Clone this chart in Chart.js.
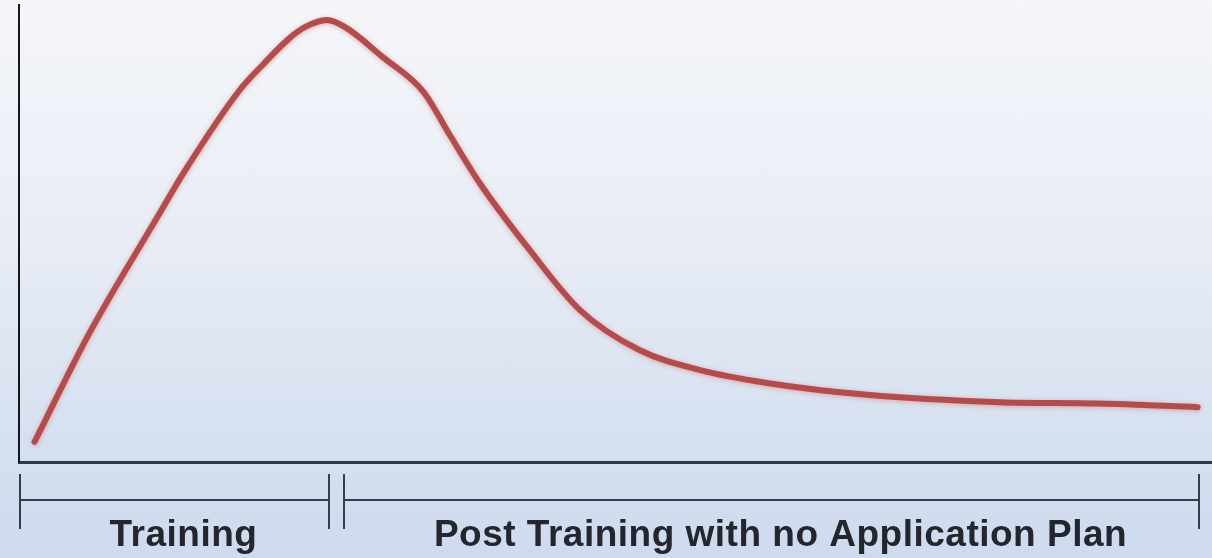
<!DOCTYPE html>
<html>
<head>
<meta charset="utf-8">
<script src="https://cdn.jsdelivr.net/npm/chart.js@4/dist/chart.umd.min.js"></script>
<style>
  html, body { margin: 0; padding: 0; }
  body {
    width: 1212px; height: 558px; overflow: hidden;
    background: linear-gradient(to bottom, #f5f6fa 0%, #e7ecf5 45%, #d3deef 85%, #cedaee 100%);
  }
  canvas { display: block; }
</style>
</head>
<body>
<canvas id="chart" width="1212" height="558"></canvas>
<script>
// Retention curve: time (0-100) against knowledge level (0-100)
const timeValues = [1.3, 5.9, 11.6, 13.9, 18.5, 20.5, 22.7, 24.0, 25.8, 27.3, 30.5, 33.9,
                    36.1, 38.6, 42.8, 47.0, 52.0, 57.1, 62.7, 71.1, 82.2, 90.6, 98.8];
const levelValues = [4.4, 28.2, 53.6, 63.7, 81.4, 87.1, 92.8, 95.2, 96.7, 95.2, 88.6, 81.0,
                     71.6, 61.1, 46.4, 33.3, 24.5, 20.1, 17.3, 14.7, 13.1, 12.8, 12.0];

// Phases marked under the time axis
const phaseLabels = ['Training', 'Post Training with no Application Plan'];
const phaseStart = [0, 27.2];
const phaseEnd = [26.0, 98.9];

const points = timeValues.map((t, i) => ({ x: t, y: levelValues[i] }));

// Soft glow under the curve
const glowPlugin = {
  id: 'glow',
  beforeDatasetsDraw(chart) {
    const ctx = chart.ctx;
    ctx.save();
    ctx.shadowColor = 'rgba(225, 120, 120, 0.6)';
    ctx.shadowBlur = 5;
    ctx.shadowOffsetX = 0;
    ctx.shadowOffsetY = 1;
  },
  afterDatasetsDraw(chart) {
    chart.ctx.restore();
  }
};

// Bracketed phase spans with their labels below the time axis
const phasePlugin = {
  id: 'phases',
  afterDraw(chart) {
    const ctx = chart.ctx;
    const xs = chart.scales.x;
    const lineY = 500, tickTop = 474, tickBottom = 529, textY = 546;
    ctx.save();
    ctx.strokeStyle = '#333d4c';
    ctx.lineWidth = 2;
    ctx.fillStyle = '#23262c';
    ctx.font = 'bold 37px "Liberation Sans", Arial, sans-serif';
    ctx.letterSpacing = '0.5px';
    ctx.textAlign = 'center';
    ctx.textBaseline = 'alphabetic';
    phaseLabels.forEach((label, i) => {
      const x0 = Math.round(xs.getPixelForValue(phaseStart[i])) + 1;
      const x1 = Math.round(xs.getPixelForValue(phaseEnd[i]));
      ctx.beginPath();
      ctx.moveTo(x0, lineY); ctx.lineTo(x1, lineY);
      ctx.moveTo(x0, tickTop); ctx.lineTo(x0, tickBottom);
      ctx.moveTo(x1, tickTop); ctx.lineTo(x1, tickBottom);
      ctx.stroke();
      ctx.fillText(label, (x0 + x1) / 2 + 9, textY);
    });
    ctx.restore();
  }
};

new Chart(document.getElementById('chart'), {
  type: 'line',
  data: {
    datasets: [{
      data: points,
      borderColor: '#b14e4d',
      borderWidth: 6,
      pointRadius: 0,
      cubicInterpolationMode: 'monotone',
      fill: false,
      borderCapStyle: 'round',
      borderJoinStyle: 'round'
    }]
  },
  options: {
    responsive: false,
    animation: false,
    events: [],
    layout: { padding: { left: 19, right: 0, top: 5, bottom: 96 } },
    plugins: { legend: { display: false }, tooltip: { enabled: false } },
    scales: {
      x: {
        type: 'linear', min: 0, max: 100,
        afterFit(scale) { scale.height = 0; },
        ticks: { display: false },
        grid: { display: false },
        border: { display: true, color: '#2f3a4a', width: 3 }
      },
      y: {
        min: 0, max: 100,
        afterFit(scale) { scale.width = 0; },
        ticks: { display: false },
        grid: { display: false },
        border: { display: true, color: '#15181d', width: 2 }
      }
    }
  },
  plugins: [glowPlugin, phasePlugin]
});
</script>
</body>
</html>
